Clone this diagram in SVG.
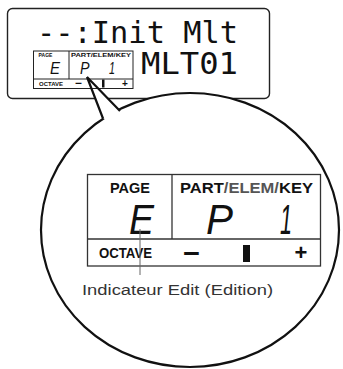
<svg xmlns="http://www.w3.org/2000/svg" width="343" height="369" viewBox="0 0 343 369">
<style>
.lcd{font-family:"DejaVu Sans Mono","Liberation Mono",monospace;fill:#111}
.lbl{font-family:"Liberation Sans",Arial,sans-serif;font-weight:bold;fill:#111}
.seg{font-family:"Liberation Sans",Arial,sans-serif;font-style:italic;fill:#111}
.frame{fill:#fff;stroke:#222}
.gray{fill:#555}
</style>
<rect width="343" height="369" fill="#fff"/>
<g id="lcd-top">
  <rect class="frame" x="7.5" y="8.5" width="262" height="90" rx="5" stroke-width="1.4"/>
  <text class="lcd" x="37" y="43.3" font-size="30" textLength="201" lengthAdjust="spacingAndGlyphs">--:Init Mlt</text>
  <text class="lcd" x="141" y="74" font-size="31" textLength="97" lengthAdjust="spacingAndGlyphs">MLT01</text>
  <g id="lcd-top-panel">
    <rect x="33.5" y="51" width="99.5" height="37.5" fill="none" stroke="#222" stroke-width="1"/>
    <line x1="69" y1="51" x2="69" y2="79" stroke="#222" stroke-width="1"/>
    <line x1="33.5" y1="79" x2="133" y2="79" stroke="#222" stroke-width="1"/>
    <text class="lbl" x="45.5" y="57" font-size="5" text-anchor="middle">PAGE</text>
    <text class="lbl" x="101" y="57" font-size="5" text-anchor="middle" textLength="60" lengthAdjust="spacingAndGlyphs">PART/ELEM/KEY</text>
    <text class="seg" x="50" y="74" font-size="17" textLength="10" lengthAdjust="spacingAndGlyphs">E</text>
    <text class="seg" x="80" y="74" font-size="17" textLength="9.5" lengthAdjust="spacingAndGlyphs">P</text>
    <text class="seg" x="109" y="74" font-size="17" textLength="6" lengthAdjust="spacingAndGlyphs">1</text>
    <text class="lbl" x="39" y="86" font-size="5.2" textLength="24" lengthAdjust="spacingAndGlyphs">OCTAVE</text>
    <text class="lbl" x="78.5" y="86.5" font-size="11" text-anchor="middle" textLength="7" lengthAdjust="spacingAndGlyphs">−</text>
    <rect x="102" y="79.5" width="2.5" height="8" fill="#111"/>
    <text class="lbl" x="125" y="86.5" font-size="10" text-anchor="middle">+</text>
  </g>
</g>
<g id="callout">
  <ellipse cx="190" cy="230" rx="149" ry="137" fill="#fff" stroke="#111" stroke-width="2.2"/>
  <polygon points="92.1,90 103,118 112,124 120,111 99.6,90" fill="#fff"/>
  <polyline points="103,118.5 87,77 120,111" fill="none" stroke="#111" stroke-width="2.2" stroke-linejoin="miter"/>
</g>
<g id="lcd-zoom">
  <rect x="87.5" y="174.5" width="233" height="91.5" fill="none" stroke="#333" stroke-width="1.3"/>
  <line x1="172" y1="174.5" x2="172" y2="239" stroke="#333" stroke-width="1.3"/>
  <line x1="87.5" y1="239" x2="320.5" y2="239" stroke="#333" stroke-width="1.3"/>
  <text class="lbl" x="130" y="193" font-size="14" text-anchor="middle" textLength="40" lengthAdjust="spacingAndGlyphs">PAGE</text>
  <text class="lbl" x="180" y="193" font-size="14" textLength="133" lengthAdjust="spacingAndGlyphs">PART<tspan class="gray">/ELEM/</tspan>KEY</text>
  <text class="seg" x="129" y="233.5" font-size="43" textLength="25" lengthAdjust="spacingAndGlyphs">E</text>
  <text class="seg" x="206" y="233.5" font-size="43" textLength="27" lengthAdjust="spacingAndGlyphs">P</text>
  <text class="seg" x="280" y="233.5" font-size="43" textLength="12" lengthAdjust="spacingAndGlyphs">1</text>
  <text class="lbl" x="99" y="258" font-size="14" textLength="53" lengthAdjust="spacingAndGlyphs">OCTAVE</text>
  <text class="lbl" x="191.5" y="262.5" font-size="28" text-anchor="middle" textLength="17" lengthAdjust="spacingAndGlyphs">−</text>
  <rect x="243" y="245" width="7" height="17" fill="#111"/>
  <text class="lbl" x="301" y="260" font-size="22" text-anchor="middle">+</text>
</g>
<g id="connectors">
  <line x1="140" y1="229" x2="140" y2="275" stroke="#666" stroke-width="1"/>
</g>
<g id="indicator-label">
  <text x="82" y="295" font-family="'Liberation Sans',Arial,sans-serif" font-size="15.5" fill="#333" textLength="191" lengthAdjust="spacingAndGlyphs">Indicateur Edit (Edition)</text>
</g>
</svg>
